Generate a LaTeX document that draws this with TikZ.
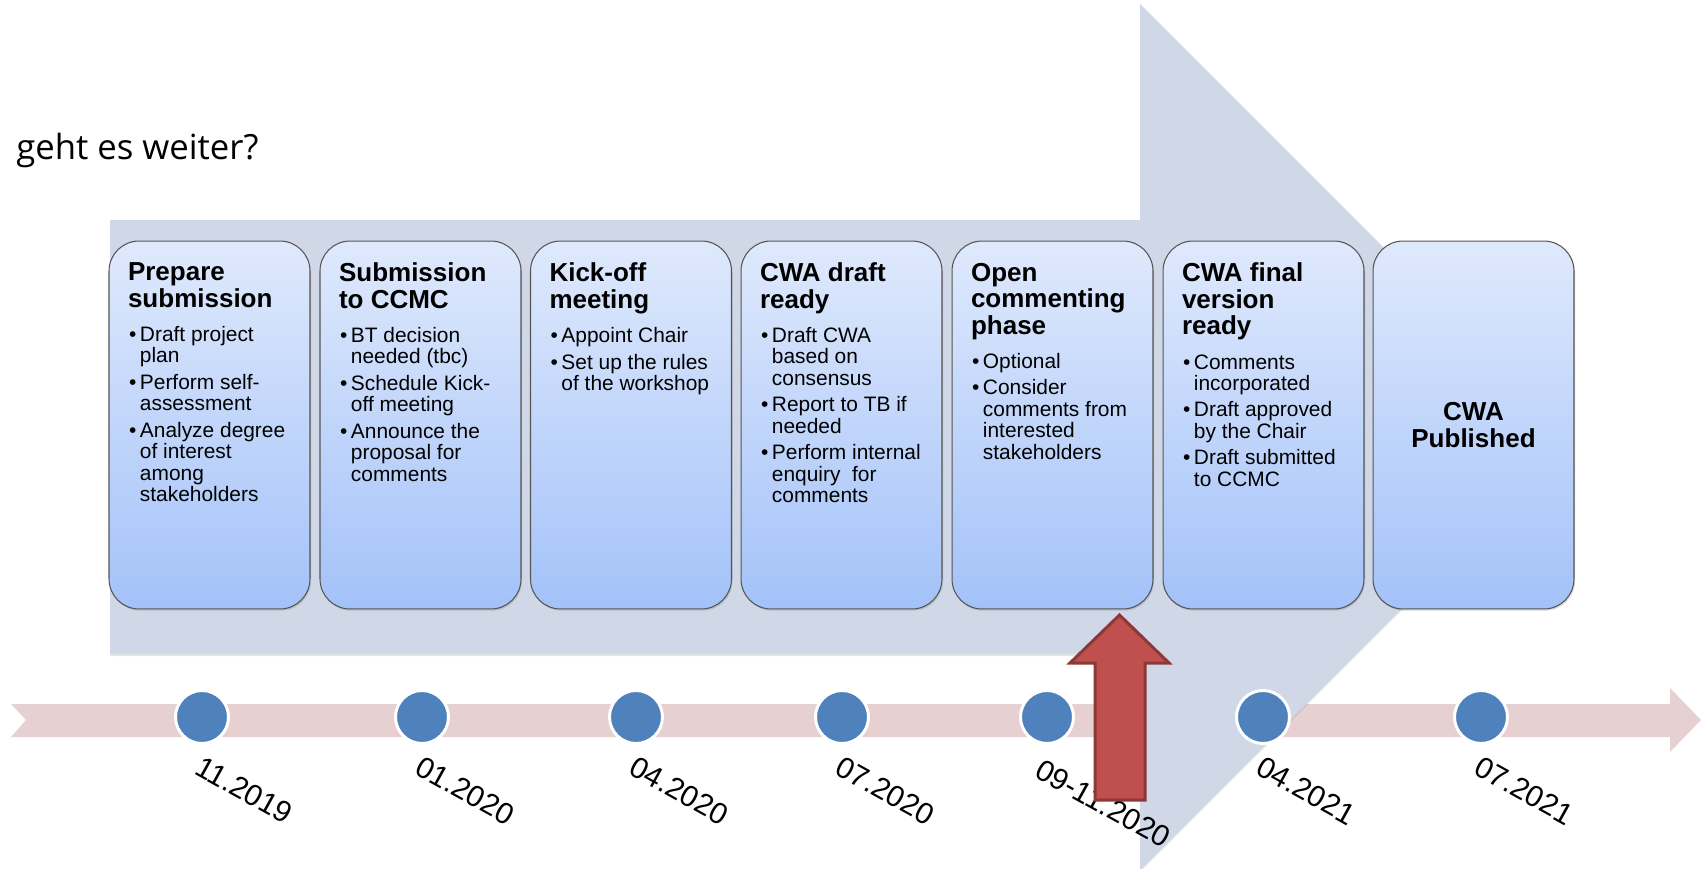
\documentclass[tikz,border=0pt]{standalone}
\usepackage{fontspec}
\setmainfont{Liberation Sans}
\newfontfamily\headfont{Open Sans}
\usetikzlibrary{shadows}

\definecolor{arrowgrey}{RGB}{208,216,231}
\definecolor{boxtop}{RGB}{223,233,252}
\definecolor{boxbot}{RGB}{163,194,249}
\definecolor{boxline}{RGB}{85,85,85}
\definecolor{bandpink}{RGB}{231,208,209}
\definecolor{dotblue}{RGB}{79,129,189}
\definecolor{markred}{RGB}{192,80,77}
\definecolor{markline}{RGB}{140,56,54}

\newcommand{\ttl}{\fontsize{14.8}{15.1}\selectfont\bfseries}
\newcommand{\txt}{\fontsize{11.9}{12.2}\selectfont}
\newcommand{\stepitem}[1]{\par\vspace{2.9pt}\leftskip=6.8pt\noindent\llap{\makebox[6.8pt][l]{\hspace{0.6pt}\textbullet}}#1}
\newcommand{\boxtext}[1]{\parbox[c][6.48cm][t]{3.26cm}{\raggedright\txt #1}}

\tikzset{
  stepbox/.style={draw=boxline, line width=0.6pt, rounded corners=0.6cm,
    top color=boxtop, bottom color=boxbot, inner xsep=0.38cm, inner ysep=0.44cm,
    drop shadow={shadow xshift=0.6pt, shadow yshift=-1pt, opacity=0.3}},
  dot/.style={circle, fill=dotblue, draw=white, line width=1.7pt, minimum size=1.06cm, inner sep=0pt},
  datelabel/.style={anchor=north west, rotate=-29, inner sep=0pt, font=\fontsize{17}{18}\selectfont}
}

\begin{document}
\begin{tikzpicture}[x=0.02cm, y=-0.02cm]
    % 画布
    \useasboundingbox (0,0) rectangle (1701,869);

    % 时间轴
    \fill[bandpink] (11,704) -- (1670,704) -- (1670,688) -- (1701,720) -- (1670,752)
        -- (1670,737) -- (11,737) -- (26,720) -- cycle;

    % 大箭头
    \fill[arrowgrey, drop shadow={shadow xshift=0pt, shadow yshift=-1.2pt, opacity=0.2}]
        (110,220) -- (1140,220) -- (1140,4) -- (1573,437) -- (1140,870)
        -- (1140,654) -- (110,654) -- cycle;

    % 阶段
    \node[stepbox] (s1) at (209.5,425) {\boxtext{%
        {\ttl Prepare\\submission\par}\vspace{4.3pt}
        \stepitem{Draft project\\plan}
        \stepitem{Perform self-\\assessment}
        \stepitem{Analyze degree\\of interest\\among\\stakeholders}}};
    \node[stepbox] (s2) at (420.5,425) {\boxtext{%
        {\ttl Submission\\to CCMC\par}\vspace{4.3pt}
        \stepitem{BT decision\\needed (tbc)}
        \stepitem{Schedule Kick-\\off meeting}
        \stepitem{Announce the\\proposal for\\comments}}};
    \node[stepbox] (s3) at (631,425) {\boxtext{%
        {\ttl Kick-off\\meeting\par}\vspace{4.3pt}
        \stepitem{Appoint Chair}
        \stepitem{Set up the rules\\of the workshop}}};
    \node[stepbox] (s4) at (841.5,425) {\boxtext{%
        {\ttl CWA draft\\ready\par}\vspace{4.3pt}
        \stepitem{Draft CWA\\based on\\consensus}
        \stepitem{Report to TB if\\needed}
        \stepitem{Perform internal\\enquiry\ \ for\\comments}}};
    \node[stepbox] (s5) at (1052.5,425) {\boxtext{%
        {\ttl Open\\commenting\\phase\par}\vspace{4.3pt}
        \stepitem{Optional}
        \stepitem{Consider\\comments from\\interested\\stakeholders}}};
    \node[stepbox] (s6) at (1263.5,425) {\boxtext{%
        {\ttl CWA final\\version\\ready\par}\vspace{4.3pt}
        \stepitem{Comments\\incorporated}
        \stepitem{Draft approved\\by the Chair}
        \stepitem{Draft submitted\\to CCMC}}};
    \node[stepbox, text width=3.26cm, align=center, minimum height=7.36cm,
        font=\ttl] (s7) at (1473.5,425) {CWA\\Published};

    % 时间点
    \node[dot] (d1) at (202,717) {};
    \node[dot] (d2) at (422,717) {};
    \node[dot] (d3) at (636,717) {};
    \node[dot] (d4) at (842,717) {};
    \node[dot] (d5) at (1047,717) {};
    \node[dot] (d6) at (1263,717) {};
    \node[dot] (d7) at (1481,717) {};

    % 日期
    \node[datelabel] (l1) at (203,755) {11.2019};
    \node[datelabel] (l2) at (423,755) {01.2020};
    \node[datelabel] (l3) at (637,755) {04.2020};
    \node[datelabel] (l4) at (843,755) {07.2020};
    \node[datelabel] (l5) at (1043,758) {09-11.2020};
    \node[datelabel] (l6) at (1264,755) {04.2021};
    \node[datelabel] (l7) at (1482,755) {07.2021};

    % 当前位置
    \filldraw[fill=markred, draw=markline, line width=1.7pt, line join=miter]
        (1095,800) -- (1095,663) -- (1070,663) -- (1119.5,615) -- (1169,663)
        -- (1145,663) -- (1145,800) -- cycle;

    % 标题
    \node[anchor=base west, inner sep=0pt, font=\headfont\fontsize{19.75}{22}\selectfont]
        (head) at (16,159) {geht es weiter?};
\end{tikzpicture}
\end{document}
